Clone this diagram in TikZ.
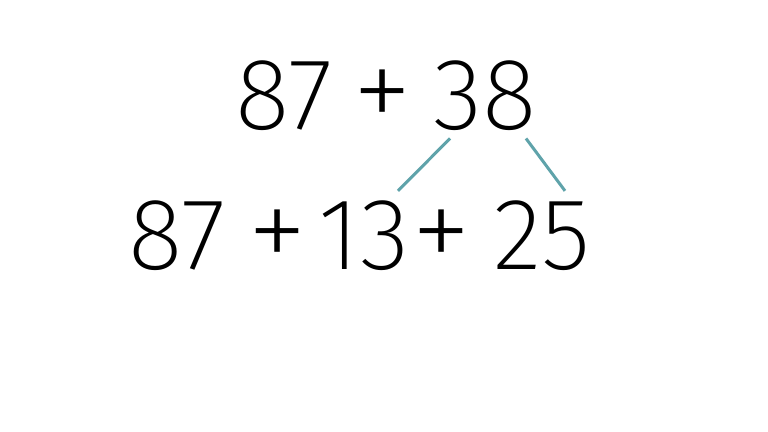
\documentclass[tikz,border=0pt]{standalone}
\usepackage{fontspec}
\setmainfont{Fira Sans ExtraLight}
\usepackage{tikz}
\usetikzlibrary{calc}

\definecolor{teal1}{RGB}{95,163,170}

\begin{document}
\begin{tikzpicture}[x=0.02cm, y=-0.02cm,
 num/.style={anchor=base,inner sep=0pt,font=\fontsize{58}{60}\selectfont},
 op/.style={num,scale=1.2},
 link/.style={draw=teal1,line width=1.7pt}]
\useasboundingbox[fill=white] (0,0) rectangle (768,432);
% top row
\node[num] (t87) at (284,130) {87};
\node[op] (tplus) at (383,132) {+};
\node[num] (n38) at (485,130) {38};
% bottom row
\node[num] (b87) at (177,270) {87};
\node[op] (bplus) at (278,272) {+};
\node[num] (n13) at (364,270) {13};
\node[op] (cplus) at (442,272) {+};
\node[num] (n25) at (542,270) {25};
% split lines
\draw[link] ($(n38.south)+(-35,7)$) -- ($(n13.north)+(34,-10)$);
\draw[link] ($(n38.south)+(41,7)$) -- ($(n25.north)+(23,-10)$);
\end{tikzpicture}
\end{document}
